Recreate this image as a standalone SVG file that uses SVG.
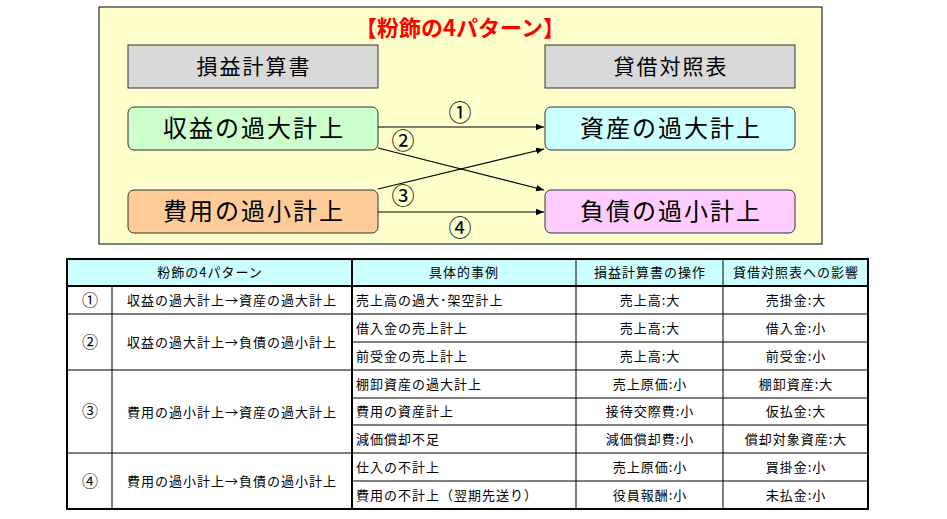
<svg xmlns="http://www.w3.org/2000/svg" width="947" height="519" viewBox="0 0 947 519">
<defs>
<marker id="ah" viewBox="0 0 10 10" refX="10" refY="5" markerWidth="8" markerHeight="8" orient="auto" markerUnits="userSpaceOnUse">
<path d="M0,1 L10,5 L0,9 z" fill="#000"/>
</marker>
</defs>
<style>
text{font-family:"Noto Sans CJK JP","Noto Sans",sans-serif;fill:#000}
.big{font-size:24px;letter-spacing:2px;text-anchor:middle}
.hd{font-size:21px;letter-spacing:2px;text-anchor:middle}
.num{font-size:23px;text-anchor:middle}
.t{font-size:13px;letter-spacing:1px}
.cn{font-size:16px;text-anchor:middle}
.c{text-anchor:middle}
.box{stroke:#333;stroke-width:1}
.conn line{stroke:#000;stroke-width:1.2;marker-end:url(#ah)}
.thin{stroke:#000;stroke-width:1}
.thick{stroke:#000;stroke-width:2}
</style>
<rect x="99" y="7" width="723" height="237" fill="#FFFFCC" stroke="#000" stroke-width="1"/>
<text x="460" y="36" style="font-size:22px;font-weight:bold;fill:#FF0000;text-anchor:middle">【粉飾の4パターン】</text>
<g id="pl-header"><rect class="box" x="128" y="45" width="250" height="43" fill="#D9D9D9"/><text class="hd" x="254" y="74">損益計算書</text></g>
<g id="bs-header"><rect class="box" x="545" y="45" width="250" height="43" fill="#D9D9D9"/><text class="hd" x="671" y="74">貸借対照表</text></g>
<g id="rev-over"><rect class="box" x="128" y="107" width="250" height="43" rx="6" fill="#CCFFCC"/><text class="big" x="254" y="137">収益の過大計上</text></g>
<g id="asset-over"><rect class="box" x="545" y="107" width="250" height="43" rx="6" fill="#CCFFFF"/><text class="big" x="671" y="137">資産の過大計上</text></g>
<g id="exp-under"><rect class="box" x="128" y="190" width="250" height="43" rx="6" fill="#FFCC99"/><text class="big" x="254" y="220">費用の過小計上</text></g>
<g id="liab-under"><rect class="box" x="545" y="190" width="250" height="43" rx="6" fill="#FFCCFF"/><text class="big" x="671" y="220">負債の過小計上</text></g>
<g class="conn" id="connectors">
<line x1="378" y1="127" x2="544" y2="127"/>
<line x1="378" y1="148" x2="544" y2="190"/>
<line x1="378" y1="189" x2="544" y2="149"/>
<line x1="378" y1="212" x2="544" y2="212"/>
<text class="num" x="460" y="121">①</text>
<text class="num" x="403" y="149">②</text>
<text class="num" x="403" y="204">③</text>
<text class="num" x="460" y="236">④</text>
</g>
<g id="table">
<rect x="67" y="259" width="801" height="27" fill="#CCFFFF"/>
<rect x="67" y="286" width="801" height="223" fill="#FFFFFF"/>
<g class="thin">
<line x1="352" y1="342" x2="868" y2="342"/>
<line x1="352" y1="398" x2="868" y2="398"/>
<line x1="352" y1="425" x2="868" y2="425"/>
<line x1="352" y1="481" x2="868" y2="481"/>
<line x1="67" y1="314" x2="868" y2="314"/>
<line x1="67" y1="370" x2="868" y2="370"/>
<line x1="67" y1="453" x2="868" y2="453"/>
<line x1="112" y1="286" x2="112" y2="509"/>
<line x1="576" y1="259" x2="576" y2="509"/>
<line x1="723" y1="259" x2="723" y2="509"/>
</g>
<g class="thick" fill="none">
<line x1="352" y1="259" x2="352" y2="509"/>
<line x1="67" y1="286" x2="868" y2="286"/>
<rect x="67" y="259" width="801" height="250"/>
</g>
<text class="t c" x="210" y="277">粉飾の4パターン</text>
<text class="t c" x="464" y="277">具体的事例</text>
<text class="t c" x="650" y="277">損益計算書の操作</text>
<text class="t c" x="796" y="277">貸借対照表への影響</text>
<text class="cn" x="90" y="306">①</text>
<text class="cn" x="90" y="348">②</text>
<text class="cn" x="90" y="417">③</text>
<text class="cn" x="90" y="487">④</text>
<text class="t c" x="232" y="305">収益の過大計上→資産の過大計上</text>
<text class="t c" x="232" y="347">収益の過大計上→負債の過小計上</text>
<text class="t c" x="232" y="417">費用の過小計上→資産の過大計上</text>
<text class="t c" x="232" y="486">費用の過小計上→負債の過小計上</text>
<text class="t" x="356" y="305">売上高の過大･架空計上</text>
<text class="t" x="356" y="333">借入金の売上計上</text>
<text class="t" x="356" y="361">前受金の売上計上</text>
<text class="t" x="356" y="389">棚卸資産の過大計上</text>
<text class="t" x="356" y="416">費用の資産計上</text>
<text class="t" x="356" y="444">減価償却不足</text>
<text class="t" x="356" y="472">仕入の不計上</text>
<text class="t" x="356" y="500">費用の不計上（翌期先送り）</text>
<text class="t c" x="650" y="305">売上高:大</text>
<text class="t c" x="650" y="333">売上高:大</text>
<text class="t c" x="650" y="361">売上高:大</text>
<text class="t c" x="650" y="389">売上原価:小</text>
<text class="t c" x="650" y="416">接待交際費:小</text>
<text class="t c" x="650" y="444">減価償却費:小</text>
<text class="t c" x="650" y="472">売上原価:小</text>
<text class="t c" x="650" y="500">役員報酬:小</text>
<text class="t c" x="796" y="305">売掛金:大</text>
<text class="t c" x="796" y="333">借入金:小</text>
<text class="t c" x="796" y="361">前受金:小</text>
<text class="t c" x="796" y="389">棚卸資産:大</text>
<text class="t c" x="796" y="416">仮払金:大</text>
<text class="t c" x="796" y="444">償却対象資産:大</text>
<text class="t c" x="796" y="472">買掛金:小</text>
<text class="t c" x="796" y="500">未払金:小</text>
</g>
</svg>
